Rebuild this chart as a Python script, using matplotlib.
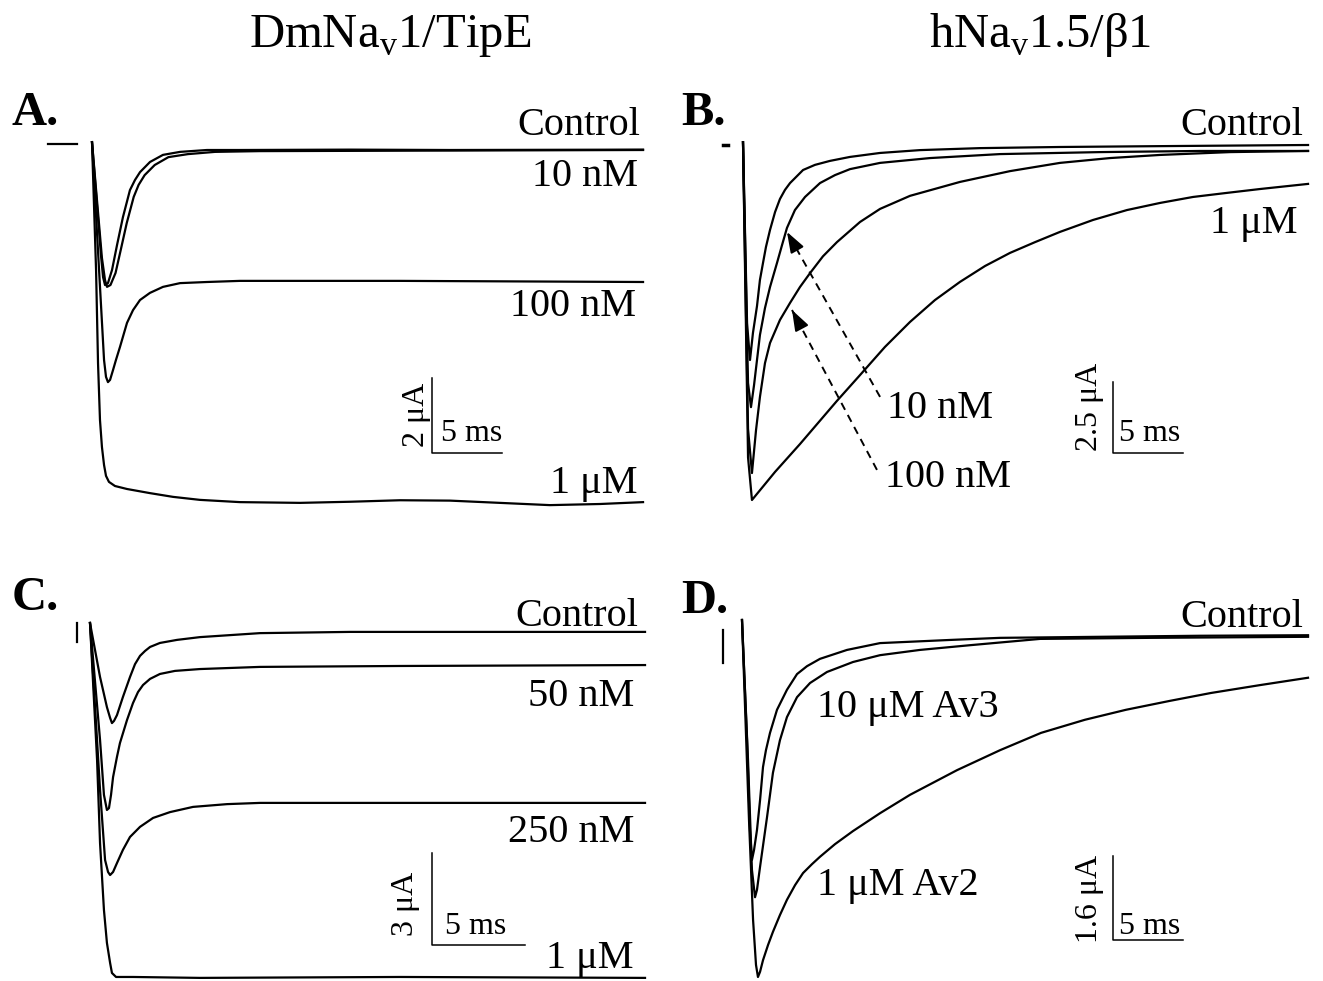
import matplotlib
matplotlib.use('Agg')
import matplotlib.pyplot as plt

W, H = 1323, 981
plt.rcParams['font.family'] = ['Liberation Serif', 'DejaVu Serif']
plt.rcParams['mathtext.fontset'] = 'custom'
plt.rcParams['mathtext.rm'] = 'Liberation Serif'

# ---- A: DmNav1/TipE (time in ms, current in uA) ----
a_ctrl_t = [0, 0.64, 0.79, 0.93, 1.14, 1.43, 1.79, 2.21, 2.71, 3.07, 3.43, 4.14, 5.07, 6.29, 8.21, 10.57, 18.43, 25.57, 39.36]
a_ctrl_i = [0.05, -2.96, -3.55, -3.76, -3.71, -3.36, -2.69, -1.95, -1.23, -0.96, -0.75, -0.48, -0.29, -0.21, -0.16, -0.16, -0.15, -0.16, -0.15]
a_10n_t = [0, 0.71, 0.93, 1.07, 1.32, 1.68, 2.05, 2.48, 2.98, 3.33, 3.76, 4.48, 5.46, 6.85, 8.79, 12.0, 39.36]
a_10n_i = [0.05, -3.04, -3.63, -3.81, -3.76, -3.44, -2.83, -2.11, -1.41, -1.09, -0.83, -0.56, -0.35, -0.27, -0.21, -0.19, -0.16]
a_100n_t = [0, 0.86, 1.0, 1.14, 1.29, 1.5, 1.71, 2.0, 2.5, 2.93, 3.43, 4.14, 5.07, 6.29, 8.21, 10.57, 22.0, 39.36]
a_100n_i = [0.05, -5.76, -6.21, -6.35, -6.29, -6.03, -5.76, -5.41, -4.77, -4.43, -4.16, -3.97, -3.81, -3.71, -3.68, -3.65, -3.65, -3.68]
a_1u_t = [0, 0.29, 0.43, 0.57, 0.71, 0.86, 1.0, 1.21, 1.64, 2.5, 4.14, 5.79, 7.71, 10.57, 14.86, 18.43, 22.0, 25.57, 29.14, 32.71, 36.29, 39.36]
a_1u_i = [0.05, -3.36, -5.84, -7.36, -8.08, -8.56, -8.85, -9.01, -9.12, -9.2, -9.31, -9.41, -9.49, -9.55, -9.57, -9.54, -9.5, -9.51, -9.57, -9.63, -9.6, -9.55]

# ---- B: hNav1.5/beta1 ----
b_ctrl_t = [0, 0.29, 0.5, 0.71, 1.0, 1.21, 1.43, 1.64, 1.93, 2.29, 2.64, 3.0, 3.36, 4.29, 5.14, 6.21, 7.64, 9.79, 12.64, 16.93, 22.64, 29.79, 40.36]
b_ctrl_i = [0.1, -6.27, -7.57, -6.62, -5.67, -4.75, -4.15, -3.59, -2.99, -2.36, -1.9, -1.58, -1.34, -0.88, -0.7, -0.56, -0.42, -0.28, -0.18, -0.11, -0.07, -0.04, 0.0]
b_10n_t = [0, 0.36, 0.57, 0.79, 1.0, 1.21, 1.57, 1.93, 2.43, 2.79, 3.14, 3.71, 4.43, 5.5, 6.57, 7.64, 9.79, 13.36, 18.36, 25.5, 32.64, 40.36]
b_10n_i = [0.1, -8.38, -9.23, -8.45, -7.57, -6.69, -5.74, -5.0, -4.15, -3.52, -2.92, -2.29, -1.83, -1.34, -1.06, -0.85, -0.63, -0.46, -0.32, -0.25, -0.21, -0.21]
b_100n_t = [0, 0.36, 0.64, 0.93, 1.21, 1.57, 1.93, 2.64, 3.36, 4.07, 4.79, 5.71, 6.71, 8.36, 9.79, 11.93, 15.5, 19.07, 22.64, 26.21, 29.79, 34.79, 40.36]
b_100n_i = [0.1, -10.0, -11.55, -10.04, -8.87, -7.68, -6.97, -6.16, -5.56, -5.0, -4.51, -3.92, -3.42, -2.71, -2.25, -1.79, -1.3, -0.92, -0.63, -0.46, -0.35, -0.25, -0.21]
b_1u_t = [0, 0.36, 0.64, 2.29, 4.07, 6.71, 8.36, 10.14, 11.93, 13.71, 15.5, 17.29, 19.07, 20.86, 22.64, 25.0, 27.43, 29.79, 32.14, 34.5, 36.93, 40.36]
b_1u_i = [0.1, -11.0, -12.5, -11.51, -10.53, -9.01, -8.1, -7.11, -6.23, -5.46, -4.82, -4.26, -3.8, -3.42, -3.06, -2.64, -2.29, -2.04, -1.83, -1.69, -1.55, -1.37]

# ---- C: DmNav1/TipE ----
c_ctrl_t = [0, 0.54, 0.91, 1.08, 1.18, 1.29, 1.45, 1.77, 2.15, 2.42, 2.69, 2.96, 3.23, 3.76, 4.68, 5.91, 9.14, 13.98, 19.35, 29.84]
c_ctrl_i = [0, -1.76, -2.74, -3.09, -3.26, -3.19, -3.0, -2.41, -1.76, -1.34, -1.07, -0.91, -0.78, -0.65, -0.55, -0.46, -0.33, -0.29, -0.29, -0.29]
c_50n_t = [0, 0.54, 0.75, 0.91, 1.02, 1.13, 1.24, 1.45, 1.61, 1.99, 2.31, 2.58, 2.85, 3.23, 3.76, 4.57, 5.91, 9.14, 16.67, 29.84]
c_50n_i = [0, -3.81, -5.6, -6.09, -6.03, -5.6, -5.02, -4.36, -3.91, -3.16, -2.61, -2.25, -2.02, -1.82, -1.66, -1.56, -1.5, -1.43, -1.4, -1.37]
c_250n_t = [0, 0.54, 0.81, 0.97, 1.08, 1.24, 1.45, 1.77, 2.15, 2.69, 3.39, 4.3, 5.54, 7.37, 9.14, 16.67, 29.84]
c_250n_i = [0, -5.44, -7.72, -8.11, -8.21, -8.11, -7.82, -7.39, -6.97, -6.64, -6.35, -6.16, -5.99, -5.9, -5.86, -5.86, -5.86]
c_1u_t = [0, 0.38, 0.54, 0.75, 0.91, 1.08, 1.18, 1.4, 2.31, 5.91, 16.67, 29.84]
c_1u_i = [0, -4.46, -7.17, -9.35, -10.42, -11.07, -11.4, -11.53, -11.53, -11.56, -11.53, -11.56]

# ---- D: hNav1.5/beta1, Av3 vs Av2 ----
d_ctrl_t = [0, 0.36, 0.57, 0.71, 0.86, 1.07, 1.29, 1.5, 1.71, 2.0, 2.5, 3.21, 3.93, 4.64, 5.57, 7.5, 9.86, 14.86, 18.43, 25.57, 32.71, 40.43]
d_ctrl_i = [0, -2.29, -4.0, -4.57, -4.38, -4.0, -3.43, -2.8, -2.48, -2.15, -1.71, -1.33, -1.03, -0.88, -0.74, -0.57, -0.44, -0.38, -0.34, -0.32, -0.3, -0.29]
d_av3_t = [0, 0.43, 0.71, 0.93, 1.07, 1.29, 1.79, 2.21, 2.71, 3.21, 3.93, 4.86, 6.07, 7.93, 9.86, 12.71, 16.29, 21.29, 29.14, 40.43]
d_av3_i = [0, -2.67, -4.76, -5.28, -5.14, -4.7, -3.75, -2.91, -2.29, -1.85, -1.47, -1.2, -0.99, -0.8, -0.67, -0.57, -0.48, -0.36, -0.34, -0.32]
d_av2_t = [0, 0.5, 0.79, 1.0, 1.14, 1.29, 1.5, 1.86, 2.21, 2.71, 3.21, 3.79, 4.36, 5.0, 5.57, 6.64, 7.93, 9.86, 12.0, 15.36, 18.43, 21.36, 24.5, 27.43, 30.57, 33.5, 37.0, 40.43]
d_av2_i = [0, -3.81, -5.71, -6.57, -6.8, -6.7, -6.48, -6.19, -5.94, -5.62, -5.33, -5.05, -4.82, -4.65, -4.51, -4.27, -4.02, -3.68, -3.33, -2.86, -2.48, -2.15, -1.9, -1.71, -1.54, -1.39, -1.24, -1.1]

fig = plt.figure(figsize=(W / 100, H / 100), dpi=100)


def panel_axes(x0, y0, sx, sy):
    # x0, y0: pixel position of t=0, I=0; sx, sy: pixels per ms / per uA
    ax = fig.add_axes([0, 0, 1, 1])
    ax.set_xlim(-x0 / sx, (W - x0) / sx)
    ax.set_ylim(-(H - y0) / sy, y0 / sy)
    ax.axis('off')
    ax.patch.set_alpha(0)
    return ax


def scale_bar(ax, t, i, dt, di):
    ax.plot([t, t, t + dt], [i + di, i, i], color='k', lw=1.1)


def txt(x, y, s, **kw):
    fig.text(x / W, 1 - y / H, s, **kw)


LW = 1.6
FS = 29
SFS = 23

axA = panel_axes(92, 144, 14, 37.5)
for t, i in [(a_ctrl_t, a_ctrl_i), (a_10n_t, a_10n_i), (a_100n_t, a_100n_i), (a_1u_t, a_1u_i)]:
    axA.plot(t, i, color='k', lw=LW, solid_joinstyle='round')
axA.plot([-3.14, -1.07], [0, 0], color='k', lw=1.6)
scale_bar(axA, 24.3, -8.24, 5, 2)

axB = panel_axes(743, 145, 14, 28.4)
for t, i in [(b_ctrl_t, b_ctrl_i), (b_10n_t, b_10n_i), (b_100n_t, b_100n_i), (b_1u_t, b_1u_i)]:
    axB.plot(t, i, color='k', lw=LW, solid_joinstyle='round')
axB.plot([-1.4, -1.1], [0, 0], color='k', lw=2.5)
scale_bar(axB, 26.43, -10.85, 5, 2.5)
for head, tail in [((3.14, -3.06), (9.79, -8.87)), ((3.5, -5.81), (9.57, -11.44))]:
    axB.plot([tail[0], head[0]], [tail[1], head[1]], color='k', lw=1.4, ls=(0, (4, 3)))
    axB.annotate('', xy=head, xytext=(head[0] + 0.1 * (tail[0] - head[0]), head[1] + 0.1 * (tail[1] - head[1])),
                 arrowprops=dict(arrowstyle='-|>,head_length=0.9,head_width=0.32',
                                 lw=1.4, color='k', shrinkA=0, shrinkB=0, mutation_scale=14))

axC = panel_axes(90, 623, 18.6, 30.7)
for t, i in [(c_ctrl_t, c_ctrl_i), (c_50n_t, c_50n_i), (c_250n_t, c_250n_i), (c_1u_t, c_1u_i)]:
    axC.plot(t, i, color='k', lw=LW, solid_joinstyle='round')
axC.plot([-0.7, -0.7], [0, -0.62], color='k', lw=1.6)
scale_bar(axC, 18.39, -10.49, 5, 3)

axD = panel_axes(742, 620, 14, 52.5)
for t, i in [(d_ctrl_t, d_ctrl_i), (d_av3_t, d_av3_i), (d_av2_t, d_av2_i)]:
    axD.plot(t, i, color='k', lw=LW, solid_joinstyle='round')
axD.plot([-1.36, -1.36], [-0.19, -0.82], color='k', lw=1.6)
scale_bar(axD, 26.5, -6.1, 5, 1.6)

# column titles
txt(390, 47, r'DmNa$_{\mathregular{v}}$1/TipE', fontsize=35, ha='center', va='baseline')
txt(1040, 47, r'hNa$_{\mathregular{v}}$1.5/β1', fontsize=35, ha='center', va='baseline')

# panel letters
for x, y, s in [(12, 125, 'A.'), (681, 125, 'B.'), (12, 610, 'C.'), (681, 613, 'D.')]:
    txt(x, y, s, fontsize=35, fontweight='bold', ha='left', va='baseline')

# trace labels
txt(640, 135, 'Control', fontsize=FS, ha='right', va='baseline')
txt(638, 186, '10 nM', fontsize=FS, ha='right', va='baseline')
txt(636, 316, '100 nM', fontsize=FS, ha='right', va='baseline')
txt(638, 493, '1 μM', fontsize=FS, ha='right', va='baseline')

txt(1303, 135, 'Control', fontsize=FS, ha='right', va='baseline')
txt(1298, 233, '1 μM', fontsize=FS, ha='right', va='baseline')
txt(887, 418, '10 nM', fontsize=FS, ha='left', va='baseline')
txt(885, 487, '100 nM', fontsize=FS, ha='left', va='baseline')

txt(638, 626, 'Control', fontsize=FS, ha='right', va='baseline')
txt(634, 706, '50 nM', fontsize=FS, ha='right', va='baseline')
txt(634, 842, '250 nM', fontsize=FS, ha='right', va='baseline')
txt(634, 968, '1 μM', fontsize=FS, ha='right', va='baseline')

txt(1303, 627, 'Control', fontsize=FS, ha='right', va='baseline')
txt(817, 717, '10 μM Av3', fontsize=FS, ha='left', va='baseline')
txt(817, 895, '1 μM Av2', fontsize=FS, ha='left', va='baseline')

# scale bar labels
for x, y, s in [(416, 415, '2 μA'), (1090, 407, '2.5 μA'), (406, 904, '3 μA'), (1090, 899, '1.6 μA')]:
    txt(x, y, s, fontsize=SFS, rotation=90, ha='center', va='center')
for x, y in [(472, 433), (1150, 433), (476, 926), (1150, 927)]:
    txt(x, y, '5 ms', fontsize=SFS, ha='center', va='center')

fig.savefig('out.png', dpi=100, facecolor='white')
